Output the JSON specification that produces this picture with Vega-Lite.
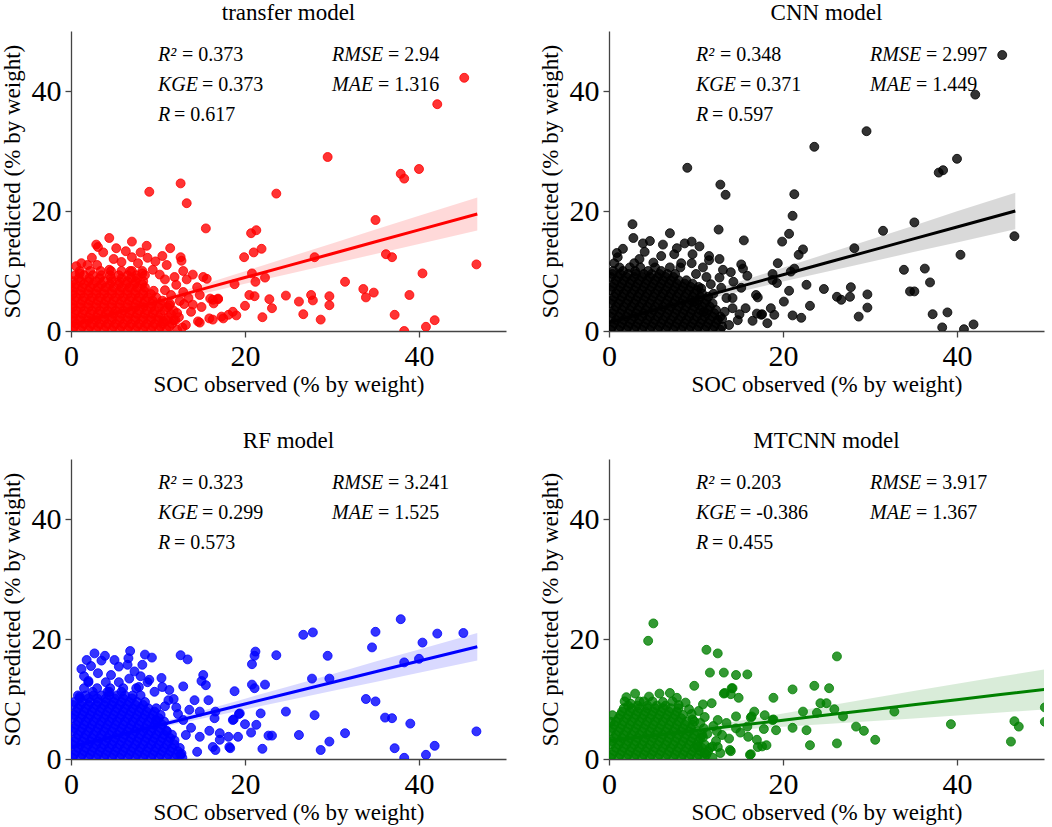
{
"$schema":"https://vega.github.io/schema/vega-lite/v6.json",
"padding":{"left":0,"top":2,"right":4,"bottom":2},
"data":{"values":[
{"m":"a","x":0.2,"y":0.2},{"m":"a","x":1.1,"y":0.2},{"m":"a","x":2.0,"y":0.2},{"m":"a","x":2.9,"y":0.2},{"m":"a","x":3.8,"y":0.2},{"m":"a","x":4.7,"y":0.2},{"m":"a","x":5.6,"y":0.2},{"m":"a","x":6.5,"y":0.2},{"m":"a","x":7.4,"y":0.2},{"m":"a","x":8.3,"y":0.2},{"m":"a","x":9.2,"y":0.2},{"m":"a","x":10.1,"y":0.2},{"m":"a","x":11.0,"y":0.2},{"m":"a","x":12.2,"y":0.2},
{"m":"a","x":0.4,"y":0.75},{"m":"a","x":1.3,"y":0.75},{"m":"a","x":2.2,"y":0.75},{"m":"a","x":3.1,"y":0.75},{"m":"a","x":4.0,"y":0.75},{"m":"a","x":4.9,"y":0.75},{"m":"a","x":5.8,"y":0.75},{"m":"a","x":6.7,"y":0.75},{"m":"a","x":7.6,"y":0.75},{"m":"a","x":8.5,"y":0.75},{"m":"a","x":9.4,"y":0.75},{"m":"a","x":10.3,"y":0.75},{"m":"a","x":11.3,"y":0.75},
{"m":"a","x":0.6,"y":1.2},{"m":"a","x":1.5,"y":1.2},{"m":"a","x":2.4,"y":1.2},{"m":"a","x":3.3,"y":1.2},{"m":"a","x":4.2,"y":1.2},{"m":"a","x":5.1,"y":1.2},{"m":"a","x":6.0,"y":1.2},{"m":"a","x":6.9,"y":1.2},{"m":"a","x":7.8,"y":1.2},{"m":"a","x":8.7,"y":1.2},{"m":"a","x":9.6,"y":1.2},{"m":"a","x":10.5,"y":1.2},{"m":"a","x":11.6,"y":1.2},
{"m":"a","x":0.2,"y":1.8},{"m":"a","x":1.1,"y":1.8},{"m":"a","x":2.0,"y":1.8},{"m":"a","x":2.9,"y":1.8},{"m":"a","x":3.8,"y":1.8},{"m":"a","x":4.7,"y":1.8},{"m":"a","x":5.6,"y":1.8},{"m":"a","x":6.5,"y":1.8},{"m":"a","x":7.4,"y":1.8},{"m":"a","x":8.3,"y":1.8},{"m":"a","x":9.2,"y":1.8},{"m":"a","x":10.1,"y":1.8},{"m":"a","x":11.0,"y":1.8},{"m":"a","x":12.0,"y":1.8},
{"m":"a","x":0.2,"y":2.3},{"m":"a","x":1.1,"y":2.3},{"m":"a","x":2.0,"y":2.3},{"m":"a","x":2.9,"y":2.3},{"m":"a","x":3.8,"y":2.3},{"m":"a","x":4.7,"y":2.3},{"m":"a","x":5.6,"y":2.3},{"m":"a","x":6.5,"y":2.3},{"m":"a","x":7.4,"y":2.3},{"m":"a","x":8.3,"y":2.3},{"m":"a","x":9.2,"y":2.3},{"m":"a","x":10.1,"y":2.3},{"m":"a","x":11.2,"y":2.3},{"m":"a","x":12.4,"y":2.3},
{"m":"a","x":0.4,"y":2.85},{"m":"a","x":1.3,"y":2.85},{"m":"a","x":2.2,"y":2.85},{"m":"a","x":3.1,"y":2.85},{"m":"a","x":4.0,"y":2.85},{"m":"a","x":4.9,"y":2.85},{"m":"a","x":5.8,"y":2.85},{"m":"a","x":6.7,"y":2.85},{"m":"a","x":7.6,"y":2.85},{"m":"a","x":8.5,"y":2.85},{"m":"a","x":9.4,"y":2.85},{"m":"a","x":10.3,"y":2.85},{"m":"a","x":11.5,"y":2.85},
{"m":"a","x":0.6,"y":3.4},{"m":"a","x":1.5,"y":3.4},{"m":"a","x":2.4,"y":3.4},{"m":"a","x":3.3,"y":3.4},{"m":"a","x":4.2,"y":3.4},{"m":"a","x":5.1,"y":3.4},{"m":"a","x":6.0,"y":3.4},{"m":"a","x":6.9,"y":3.4},{"m":"a","x":7.8,"y":3.4},{"m":"a","x":8.7,"y":3.4},{"m":"a","x":9.6,"y":3.4},{"m":"a","x":10.7,"y":3.4},{"m":"a","x":11.8,"y":3.4},
{"m":"a","x":0.2,"y":3.95},{"m":"a","x":1.1,"y":3.95},{"m":"a","x":2.0,"y":3.95},{"m":"a","x":2.9,"y":3.95},{"m":"a","x":3.8,"y":3.95},{"m":"a","x":4.7,"y":3.95},{"m":"a","x":5.6,"y":3.95},{"m":"a","x":6.5,"y":3.95},{"m":"a","x":7.4,"y":3.95},{"m":"a","x":8.3,"y":3.95},{"m":"a","x":9.2,"y":3.95},{"m":"a","x":10.1,"y":3.95},{"m":"a","x":11.1,"y":3.95},
{"m":"a","x":0.2,"y":4.5},{"m":"a","x":1.1,"y":4.5},{"m":"a","x":2.0,"y":4.5},{"m":"a","x":2.9,"y":4.5},{"m":"a","x":3.8,"y":4.5},{"m":"a","x":4.7,"y":4.5},{"m":"a","x":5.6,"y":4.5},{"m":"a","x":6.5,"y":4.5},{"m":"a","x":7.4,"y":4.5},{"m":"a","x":8.3,"y":4.5},{"m":"a","x":9.3,"y":4.5},{"m":"a","x":10.3,"y":4.5},{"m":"a","x":11.4,"y":4.5},
{"m":"a","x":0.4,"y":5.05},{"m":"a","x":1.3,"y":5.05},{"m":"a","x":2.2,"y":5.05},{"m":"a","x":3.1,"y":5.05},{"m":"a","x":4.0,"y":5.05},{"m":"a","x":4.9,"y":5.05},{"m":"a","x":5.8,"y":5.05},{"m":"a","x":6.7,"y":5.05},{"m":"a","x":7.6,"y":5.05},{"m":"a","x":8.5,"y":5.05},{"m":"a","x":9.4,"y":5.05},{"m":"a","x":10.5,"y":5.05},
{"m":"a","x":0.6,"y":5.6},{"m":"a","x":1.5,"y":5.6},{"m":"a","x":2.4,"y":5.6},{"m":"a","x":3.3,"y":5.6},{"m":"a","x":4.2,"y":5.6},{"m":"a","x":5.1,"y":5.6},{"m":"a","x":6.0,"y":5.6},{"m":"a","x":6.9,"y":5.6},{"m":"a","x":7.8,"y":5.6},{"m":"a","x":8.8,"y":5.6},{"m":"a","x":9.8,"y":5.6},
{"m":"a","x":0.2,"y":6.15},{"m":"a","x":1.1,"y":6.15},{"m":"a","x":2.0,"y":6.15},{"m":"a","x":2.9,"y":6.15},{"m":"a","x":3.8,"y":6.15},{"m":"a","x":4.7,"y":6.15},{"m":"a","x":5.6,"y":6.15},{"m":"a","x":6.5,"y":6.15},{"m":"a","x":7.4,"y":6.15},{"m":"a","x":8.3,"y":6.15},{"m":"a","x":9.2,"y":6.15},
{"m":"a","x":0.2,"y":6.7},{"m":"a","x":1.1,"y":6.7},{"m":"a","x":2.0,"y":6.7},{"m":"a","x":2.9,"y":6.7},{"m":"a","x":3.8,"y":6.7},{"m":"a","x":4.7,"y":6.7},{"m":"a","x":5.6,"y":6.7},{"m":"a","x":6.5,"y":6.7},{"m":"a","x":7.4,"y":6.7},{"m":"a","x":8.4,"y":6.7},{"m":"a","x":9.5,"y":6.7},
{"m":"a","x":0.4,"y":7.25},{"m":"a","x":1.3,"y":7.25},{"m":"a","x":2.2,"y":7.25},{"m":"a","x":3.1,"y":7.25},{"m":"a","x":4.0,"y":7.25},{"m":"a","x":4.9,"y":7.25},{"m":"a","x":5.8,"y":7.25},{"m":"a","x":6.7,"y":7.25},{"m":"a","x":7.6,"y":7.25},{"m":"a","x":8.5,"y":7.25},
{"m":"a","x":0.5,"y":7.8},{"m":"a","x":1.5,"y":7.8},{"m":"a","x":2.5,"y":7.8},{"m":"a","x":3.5,"y":7.8},{"m":"a","x":4.5,"y":7.8},{"m":"a","x":5.5,"y":7.8},{"m":"a","x":6.4,"y":7.8},{"m":"a","x":7.3,"y":7.8},{"m":"a","x":8.2,"y":7.8},
{"m":"a","x":0.2,"y":8.3},{"m":"a","x":1.1,"y":8.3},{"m":"a","x":2.0,"y":8.3},{"m":"a","x":2.9,"y":8.3},{"m":"a","x":3.8,"y":8.3},{"m":"a","x":4.7,"y":8.3},{"m":"a","x":5.6,"y":8.3},{"m":"a","x":6.5,"y":8.3},{"m":"a","x":7.4,"y":8.3},{"m":"a","x":8.3,"y":8.3},
{"m":"a","x":0.9,"y":8.8},{"m":"a","x":2.1,"y":8.8},{"m":"a","x":3.3,"y":8.8},{"m":"a","x":4.6,"y":8.8},{"m":"a","x":5.8,"y":8.8},{"m":"a","x":6.9,"y":8.8},{"m":"a","x":7.6,"y":8.8},
{"m":"a","x":0.5,"y":9.3},{"m":"a","x":1.5,"y":9.3},{"m":"a","x":2.5,"y":9.3},{"m":"a","x":3.5,"y":9.3},{"m":"a","x":4.5,"y":9.3},{"m":"a","x":5.5,"y":9.3},{"m":"a","x":6.5,"y":9.3},{"m":"a","x":7.5,"y":9.3},{"m":"a","x":8.5,"y":9.3},
{"m":"a","x":1.0,"y":10.0},{"m":"a","x":2.2,"y":10.0},{"m":"a","x":3.4,"y":10.0},{"m":"a","x":4.6,"y":10.0},{"m":"a","x":5.8,"y":10.0},{"m":"a","x":7.0,"y":10.0},{"m":"a","x":8.2,"y":10.0},
{"m":"a","x":0.6,"y":10.8},{"m":"a","x":3.0,"y":11.0},{"m":"a","x":4.9,"y":12.0},{"m":"a","x":7.0,"y":12.3},{"m":"a","x":5.2,"y":13.8},{"m":"a","x":8.0,"y":13.1},{"m":"a","x":9.7,"y":11.6},{"m":"a","x":11.0,"y":11.0},{"m":"a","x":10.8,"y":8.6},{"m":"a","x":11.5,"y":6.0},{"m":"a","x":12.5,"y":5.0},{"m":"a","x":10.8,"y":6.8},{"m":"a","x":13.0,"y":4.5},{"m":"a","x":11.8,"y":1.8},{"m":"a","x":12.8,"y":0.6},
{"m":"a","x":15.5,"y":17.1},{"m":"a","x":4.4,"y":15.5},{"m":"a","x":7.0,"y":14.9},{"m":"a","x":2.9,"y":14.4},{"m":"a","x":3.1,"y":14.0},{"m":"a","x":8.7,"y":14.2},{"m":"a","x":11.4,"y":13.8},{"m":"a","x":3.7,"y":13.1},{"m":"a","x":6.3,"y":13.3},{"m":"a","x":10.5,"y":12.5},{"m":"a","x":12.6,"y":12.3},{"m":"a","x":12.7,"y":11.7},{"m":"a","x":8.8,"y":12.2},{"m":"a","x":2.4,"y":12.2},{"m":"a","x":1.2,"y":11.3},{"m":"a","x":1.9,"y":11.0},{"m":"a","x":5.8,"y":11.5},{"m":"a","x":7.7,"y":11.3},{"m":"a","x":9.4,"y":10.2},{"m":"a","x":12.9,"y":10.0},{"m":"a","x":14.0,"y":9.4},{"m":"a","x":15.2,"y":9.0},{"m":"a","x":15.6,"y":8.7},{"m":"a","x":1.0,"y":9.6},{"m":"a","x":4.4,"y":10.2},{"m":"a","x":6.8,"y":10.0},{"m":"a","x":8.2,"y":9.6},{"m":"a","x":10.2,"y":9.4},{"m":"a","x":12.1,"y":7.7},{"m":"a","x":12.9,"y":6.5},{"m":"a","x":11.3,"y":4.3},{"m":"a","x":10.6,"y":1.6},{"m":"a","x":14.6,"y":1.6},{"m":"a","x":14.0,"y":4.4},{"m":"a","x":16.3,"y":5.2},{"m":"a","x":16.9,"y":5.4},{"m":"a","x":15.9,"y":2.1},{"m":"a","x":17.5,"y":2.1},{"m":"a","x":18.6,"y":3.2},{"m":"a","x":13.3,"y":8.6},{"m":"a","x":14.5,"y":7.3},{"m":"a","x":13.5,"y":5.5},{"m":"a","x":14.8,"y":6.0},{"m":"a","x":12.2,"y":3.0},{"m":"a","x":13.2,"y":1.0},{"m":"a","x":11.9,"y":9.0},{"m":"a","x":13.8,"y":3.2},{"m":"a","x":15.0,"y":4.0},
{"m":"a","x":45.2,"y":42.2},{"m":"a","x":42.1,"y":37.8},{"m":"a","x":29.5,"y":29.0},{"m":"a","x":40.0,"y":27.0},{"m":"a","x":37.9,"y":26.2},{"m":"a","x":38.3,"y":25.4},{"m":"a","x":9.0,"y":23.2},{"m":"a","x":12.6,"y":24.6},{"m":"a","x":13.3,"y":21.3},{"m":"a","x":23.6,"y":22.9},{"m":"a","x":35.0,"y":18.5},{"m":"a","x":20.7,"y":16.3},{"m":"a","x":21.3,"y":16.8},{"m":"a","x":19.9,"y":12.3},{"m":"a","x":21.0,"y":13.1},{"m":"a","x":21.9,"y":13.7},{"m":"a","x":28.0,"y":12.3},{"m":"a","x":36.2,"y":12.8},{"m":"a","x":36.9,"y":12.3},{"m":"a","x":46.6,"y":11.1},{"m":"a","x":40.4,"y":9.6},{"m":"a","x":20.8,"y":9.6},{"m":"a","x":21.2,"y":8.2},{"m":"a","x":22.3,"y":8.9},{"m":"a","x":31.5,"y":8.2},{"m":"a","x":18.8,"y":7.8},{"m":"a","x":33.6,"y":7.0},{"m":"a","x":34.8,"y":6.4},{"m":"a","x":33.9,"y":5.6},{"m":"a","x":20.5,"y":6.0},{"m":"a","x":21.1,"y":5.8},{"m":"a","x":24.7,"y":5.9},{"m":"a","x":22.8,"y":5.3},{"m":"a","x":26.2,"y":4.9},{"m":"a","x":27.6,"y":6.0},{"m":"a","x":27.8,"y":5.1},{"m":"a","x":29.7,"y":5.8},{"m":"a","x":29.7,"y":4.3},{"m":"a","x":38.9,"y":6.0},{"m":"a","x":20.0,"y":4.2},{"m":"a","x":23.1,"y":3.8},{"m":"a","x":26.7,"y":2.8},{"m":"a","x":28.7,"y":1.9},{"m":"a","x":22.0,"y":2.3},{"m":"a","x":37.2,"y":2.7},{"m":"a","x":38.3,"y":0.0},{"m":"a","x":40.8,"y":0.7},{"m":"a","x":41.8,"y":1.8},{"m":"a","x":17.3,"y":2.4},{"m":"a","x":18.1,"y":2.7},{"m":"a","x":19.0,"y":2.6},{"m":"a","x":16.3,"y":1.9},{"m":"a","x":14.8,"y":1.4},{"m":"a","x":16.0,"y":5.4},{"m":"a","x":16.9,"y":5.3},{"m":"a","x":16.4,"y":4.6},

{"m":"b","x":0.2,"y":0.2},{"m":"b","x":1.1,"y":0.2},{"m":"b","x":2.0,"y":0.2},{"m":"b","x":2.9,"y":0.2},{"m":"b","x":3.8,"y":0.2},{"m":"b","x":4.7,"y":0.2},{"m":"b","x":5.6,"y":0.2},{"m":"b","x":6.5,"y":0.2},{"m":"b","x":7.4,"y":0.2},{"m":"b","x":8.3,"y":0.2},{"m":"b","x":9.2,"y":0.2},{"m":"b","x":10.1,"y":0.2},{"m":"b","x":11.0,"y":0.2},{"m":"b","x":11.9,"y":0.2},{"m":"b","x":12.8,"y":0.2},
{"m":"b","x":0.4,"y":0.75},{"m":"b","x":1.3,"y":0.75},{"m":"b","x":2.2,"y":0.75},{"m":"b","x":3.1,"y":0.75},{"m":"b","x":4.0,"y":0.75},{"m":"b","x":4.9,"y":0.75},{"m":"b","x":5.8,"y":0.75},{"m":"b","x":6.7,"y":0.75},{"m":"b","x":7.6,"y":0.75},{"m":"b","x":8.5,"y":0.75},{"m":"b","x":9.4,"y":0.75},{"m":"b","x":10.3,"y":0.75},{"m":"b","x":11.2,"y":0.75},{"m":"b","x":12.1,"y":0.75},{"m":"b","x":13.0,"y":0.75},
{"m":"b","x":0.6,"y":1.3},{"m":"b","x":1.5,"y":1.3},{"m":"b","x":2.4,"y":1.3},{"m":"b","x":3.3,"y":1.3},{"m":"b","x":4.2,"y":1.3},{"m":"b","x":5.1,"y":1.3},{"m":"b","x":6.0,"y":1.3},{"m":"b","x":6.9,"y":1.3},{"m":"b","x":7.8,"y":1.3},{"m":"b","x":8.7,"y":1.3},{"m":"b","x":9.6,"y":1.3},{"m":"b","x":10.5,"y":1.3},{"m":"b","x":11.4,"y":1.3},{"m":"b","x":12.3,"y":1.3},
{"m":"b","x":0.8,"y":1.85},{"m":"b","x":1.7,"y":1.85},{"m":"b","x":2.6,"y":1.85},{"m":"b","x":3.5,"y":1.85},{"m":"b","x":4.4,"y":1.85},{"m":"b","x":5.3,"y":1.85},{"m":"b","x":6.2,"y":1.85},{"m":"b","x":7.1,"y":1.85},{"m":"b","x":8.0,"y":1.85},{"m":"b","x":8.9,"y":1.85},{"m":"b","x":9.8,"y":1.85},{"m":"b","x":10.7,"y":1.85},{"m":"b","x":11.6,"y":1.85},{"m":"b","x":12.5,"y":1.85},
{"m":"b","x":0.2,"y":2.4},{"m":"b","x":1.1,"y":2.4},{"m":"b","x":2.0,"y":2.4},{"m":"b","x":2.9,"y":2.4},{"m":"b","x":3.8,"y":2.4},{"m":"b","x":4.7,"y":2.4},{"m":"b","x":5.6,"y":2.4},{"m":"b","x":6.5,"y":2.4},{"m":"b","x":7.4,"y":2.4},{"m":"b","x":8.3,"y":2.4},{"m":"b","x":9.2,"y":2.4},{"m":"b","x":10.1,"y":2.4},{"m":"b","x":11.0,"y":2.4},{"m":"b","x":11.9,"y":2.4},{"m":"b","x":12.8,"y":2.4},
{"m":"b","x":0.4,"y":2.95},{"m":"b","x":1.3,"y":2.95},{"m":"b","x":2.2,"y":2.95},{"m":"b","x":3.1,"y":2.95},{"m":"b","x":4.0,"y":2.95},{"m":"b","x":4.9,"y":2.95},{"m":"b","x":5.8,"y":2.95},{"m":"b","x":6.7,"y":2.95},{"m":"b","x":7.6,"y":2.95},{"m":"b","x":8.5,"y":2.95},{"m":"b","x":9.4,"y":2.95},{"m":"b","x":10.3,"y":2.95},{"m":"b","x":11.2,"y":2.95},{"m":"b","x":12.1,"y":2.95},
{"m":"b","x":0.6,"y":3.5},{"m":"b","x":1.5,"y":3.5},{"m":"b","x":2.4,"y":3.5},{"m":"b","x":3.3,"y":3.5},{"m":"b","x":4.2,"y":3.5},{"m":"b","x":5.1,"y":3.5},{"m":"b","x":6.0,"y":3.5},{"m":"b","x":6.9,"y":3.5},{"m":"b","x":7.8,"y":3.5},{"m":"b","x":8.7,"y":3.5},{"m":"b","x":9.6,"y":3.5},{"m":"b","x":10.5,"y":3.5},{"m":"b","x":11.4,"y":3.5},{"m":"b","x":12.3,"y":3.5},
{"m":"b","x":0.8,"y":4.05},{"m":"b","x":1.7,"y":4.05},{"m":"b","x":2.6,"y":4.05},{"m":"b","x":3.5,"y":4.05},{"m":"b","x":4.4,"y":4.05},{"m":"b","x":5.3,"y":4.05},{"m":"b","x":6.2,"y":4.05},{"m":"b","x":7.1,"y":4.05},{"m":"b","x":8.0,"y":4.05},{"m":"b","x":8.9,"y":4.05},{"m":"b","x":9.8,"y":4.05},{"m":"b","x":10.7,"y":4.05},{"m":"b","x":11.6,"y":4.05},
{"m":"b","x":0.2,"y":4.6},{"m":"b","x":1.1,"y":4.6},{"m":"b","x":2.0,"y":4.6},{"m":"b","x":2.9,"y":4.6},{"m":"b","x":3.8,"y":4.6},{"m":"b","x":4.7,"y":4.6},{"m":"b","x":5.6,"y":4.6},{"m":"b","x":6.5,"y":4.6},{"m":"b","x":7.4,"y":4.6},{"m":"b","x":8.3,"y":4.6},{"m":"b","x":9.2,"y":4.6},{"m":"b","x":10.1,"y":4.6},{"m":"b","x":11.0,"y":4.6},{"m":"b","x":11.9,"y":4.6},
{"m":"b","x":0.4,"y":5.15},{"m":"b","x":1.3,"y":5.15},{"m":"b","x":2.2,"y":5.15},{"m":"b","x":3.1,"y":5.15},{"m":"b","x":4.0,"y":5.15},{"m":"b","x":4.9,"y":5.15},{"m":"b","x":5.8,"y":5.15},{"m":"b","x":6.7,"y":5.15},{"m":"b","x":7.6,"y":5.15},{"m":"b","x":8.5,"y":5.15},{"m":"b","x":9.4,"y":5.15},{"m":"b","x":10.3,"y":5.15},{"m":"b","x":11.2,"y":5.15},
{"m":"b","x":0.6,"y":5.7},{"m":"b","x":1.5,"y":5.7},{"m":"b","x":2.4,"y":5.7},{"m":"b","x":3.3,"y":5.7},{"m":"b","x":4.2,"y":5.7},{"m":"b","x":5.1,"y":5.7},{"m":"b","x":6.0,"y":5.7},{"m":"b","x":6.9,"y":5.7},{"m":"b","x":7.8,"y":5.7},{"m":"b","x":8.7,"y":5.7},{"m":"b","x":9.6,"y":5.7},{"m":"b","x":10.5,"y":5.7},{"m":"b","x":11.4,"y":5.7},
{"m":"b","x":0.8,"y":6.25},{"m":"b","x":1.7,"y":6.25},{"m":"b","x":2.6,"y":6.25},{"m":"b","x":3.5,"y":6.25},{"m":"b","x":4.4,"y":6.25},{"m":"b","x":5.3,"y":6.25},{"m":"b","x":6.2,"y":6.25},{"m":"b","x":7.1,"y":6.25},{"m":"b","x":8.0,"y":6.25},{"m":"b","x":8.9,"y":6.25},{"m":"b","x":9.8,"y":6.25},{"m":"b","x":10.7,"y":6.25},
{"m":"b","x":0.2,"y":6.8},{"m":"b","x":1.1,"y":6.8},{"m":"b","x":2.0,"y":6.8},{"m":"b","x":2.9,"y":6.8},{"m":"b","x":3.8,"y":6.8},{"m":"b","x":4.7,"y":6.8},{"m":"b","x":5.6,"y":6.8},{"m":"b","x":6.5,"y":6.8},{"m":"b","x":7.4,"y":6.8},{"m":"b","x":8.3,"y":6.8},{"m":"b","x":9.2,"y":6.8},{"m":"b","x":10.1,"y":6.8},
{"m":"b","x":0.4,"y":7.35},{"m":"b","x":1.3,"y":7.35},{"m":"b","x":2.2,"y":7.35},{"m":"b","x":3.1,"y":7.35},{"m":"b","x":4.0,"y":7.35},{"m":"b","x":4.9,"y":7.35},{"m":"b","x":5.8,"y":7.35},{"m":"b","x":6.7,"y":7.35},{"m":"b","x":7.6,"y":7.35},{"m":"b","x":8.5,"y":7.35},{"m":"b","x":9.4,"y":7.35},{"m":"b","x":10.3,"y":7.35},
{"m":"b","x":0.6,"y":7.9},{"m":"b","x":1.5,"y":7.9},{"m":"b","x":2.4,"y":7.9},{"m":"b","x":3.3,"y":7.9},{"m":"b","x":4.2,"y":7.9},{"m":"b","x":5.1,"y":7.9},{"m":"b","x":6.0,"y":7.9},{"m":"b","x":6.9,"y":7.9},{"m":"b","x":7.8,"y":7.9},{"m":"b","x":8.7,"y":7.9},{"m":"b","x":9.6,"y":7.9},
{"m":"b","x":0.8,"y":8.45},{"m":"b","x":1.7,"y":8.45},{"m":"b","x":2.6,"y":8.45},{"m":"b","x":3.5,"y":8.45},{"m":"b","x":4.4,"y":8.45},{"m":"b","x":5.3,"y":8.45},{"m":"b","x":6.2,"y":8.45},{"m":"b","x":7.1,"y":8.45},{"m":"b","x":8.0,"y":8.45},{"m":"b","x":8.9,"y":8.45},
{"m":"b","x":0.2,"y":9.0},{"m":"b","x":1.1,"y":9.0},{"m":"b","x":2.0,"y":9.0},{"m":"b","x":2.9,"y":9.0},{"m":"b","x":3.8,"y":9.0},{"m":"b","x":4.7,"y":9.0},{"m":"b","x":5.6,"y":9.0},{"m":"b","x":6.5,"y":9.0},{"m":"b","x":7.4,"y":9.0},
{"m":"b","x":0.4,"y":9.5},{"m":"b","x":1.3,"y":9.5},{"m":"b","x":2.2,"y":9.5},{"m":"b","x":3.1,"y":9.5},{"m":"b","x":4.0,"y":9.5},{"m":"b","x":4.9,"y":9.5},{"m":"b","x":5.8,"y":9.5},{"m":"b","x":6.7,"y":9.5},{"m":"b","x":7.6,"y":9.5},
{"m":"b","x":0.5,"y":10.0},{"m":"b","x":1.6,"y":10.0},{"m":"b","x":3.0,"y":10.0},{"m":"b","x":4.5,"y":10.0},{"m":"b","x":6.0,"y":10.0},
{"m":"b","x":1.2,"y":10.6},{"m":"b","x":2.4,"y":10.6},{"m":"b","x":3.6,"y":10.6},{"m":"b","x":5.3,"y":10.6},{"m":"b","x":7.0,"y":10.6},{"m":"b","x":8.2,"y":10.6},
{"m":"b","x":1.0,"y":12.3},{"m":"b","x":3.5,"y":12.0},{"m":"b","x":6.0,"y":12.5},{"m":"b","x":7.8,"y":13.8},{"m":"b","x":8.3,"y":11.3},{"m":"b","x":10.8,"y":10.6},{"m":"b","x":11.2,"y":9.0},{"m":"b","x":12.0,"y":6.2},{"m":"b","x":13.5,"y":5.5},{"m":"b","x":13.0,"y":2.0},{"m":"b","x":14.2,"y":3.8},{"m":"b","x":11.5,"y":11.8},{"m":"b","x":4.7,"y":15.0},{"m":"b","x":0.9,"y":13.0},
{"m":"b","x":2.7,"y":17.8},{"m":"b","x":2.8,"y":15.5},{"m":"b","x":7.0,"y":16.3},{"m":"b","x":1.6,"y":13.7},{"m":"b","x":3.9,"y":14.6},{"m":"b","x":4.1,"y":13.2},{"m":"b","x":6.2,"y":14.4},{"m":"b","x":8.7,"y":14.6},{"m":"b","x":9.5,"y":14.9},{"m":"b","x":10.4,"y":14.1},{"m":"b","x":7.5,"y":12.8},{"m":"b","x":9.6,"y":12.8},{"m":"b","x":11.5,"y":12.5},{"m":"b","x":12.7,"y":12.0},{"m":"b","x":0.6,"y":11.3},{"m":"b","x":2.9,"y":11.3},{"m":"b","x":5.1,"y":11.4},{"m":"b","x":9.5,"y":11.3},{"m":"b","x":13.1,"y":10.2},{"m":"b","x":15.2,"y":11.1},{"m":"b","x":15.4,"y":10.4},{"m":"b","x":15.9,"y":9.2},{"m":"b","x":14.0,"y":9.8},{"m":"b","x":10.0,"y":9.5},{"m":"b","x":11.7,"y":7.8},{"m":"b","x":12.7,"y":8.9},{"m":"b","x":12.9,"y":7.2},{"m":"b","x":14.3,"y":8.2},{"m":"b","x":15.2,"y":7.2},{"m":"b","x":16.9,"y":6.0},{"m":"b","x":17.1,"y":5.6},{"m":"b","x":18.8,"y":9.5},{"m":"b","x":19.3,"y":8.0},{"m":"b","x":18.6,"y":3.8},{"m":"b","x":17.5,"y":2.7},{"m":"b","x":13.3,"y":3.2},{"m":"b","x":10.6,"y":7.1},{"m":"b","x":9.8,"y":4.9},{"m":"b","x":10.9,"y":3.2},{"m":"b","x":15.7,"y":3.8},{"m":"b","x":14.2,"y":5.5},{"m":"b","x":13.8,"y":1.0},{"m":"b","x":15.0,"y":2.8},
{"m":"b","x":45.2,"y":46.0},{"m":"b","x":42.1,"y":39.4},{"m":"b","x":29.6,"y":33.3},{"m":"b","x":23.6,"y":30.7},{"m":"b","x":40.0,"y":28.7},{"m":"b","x":37.9,"y":26.4},{"m":"b","x":38.4,"y":26.8},{"m":"b","x":9.0,"y":27.2},{"m":"b","x":12.8,"y":24.4},{"m":"b","x":13.4,"y":22.7},{"m":"b","x":21.3,"y":22.8},{"m":"b","x":21.1,"y":19.2},{"m":"b","x":35.1,"y":18.1},{"m":"b","x":12.6,"y":16.9},{"m":"b","x":20.7,"y":16.2},{"m":"b","x":15.5,"y":15.1},{"m":"b","x":19.9,"y":14.9},{"m":"b","x":31.5,"y":16.7},{"m":"b","x":28.2,"y":13.8},{"m":"b","x":22.3,"y":13.6},{"m":"b","x":21.8,"y":12.7},{"m":"b","x":19.4,"y":11.3},{"m":"b","x":40.4,"y":12.7},{"m":"b","x":46.6,"y":15.8},{"m":"b","x":21.3,"y":10.4},{"m":"b","x":20.9,"y":9.9},{"m":"b","x":33.9,"y":10.2},{"m":"b","x":36.3,"y":10.4},{"m":"b","x":36.9,"y":8.1},{"m":"b","x":34.6,"y":6.6},{"m":"b","x":35.1,"y":6.6},{"m":"b","x":22.7,"y":7.7},{"m":"b","x":24.7,"y":7.0},{"m":"b","x":27.8,"y":7.3},{"m":"b","x":26.2,"y":5.7},{"m":"b","x":26.7,"y":5.2},{"m":"b","x":27.7,"y":5.7},{"m":"b","x":29.7,"y":6.1},{"m":"b","x":29.7,"y":3.9},{"m":"b","x":23.1,"y":4.2},{"m":"b","x":20.7,"y":6.7},{"m":"b","x":20.1,"y":4.9},{"m":"b","x":28.7,"y":2.4},{"m":"b","x":21.1,"y":2.6},{"m":"b","x":22.1,"y":2.2},{"m":"b","x":37.2,"y":2.8},{"m":"b","x":38.9,"y":3.1},{"m":"b","x":38.3,"y":0.6},{"m":"b","x":40.8,"y":0.3},{"m":"b","x":41.9,"y":1.1},{"m":"b","x":19.0,"y":2.7},{"m":"b","x":18.2,"y":1.3},{"m":"b","x":17.6,"y":2.8},{"m":"b","x":17.0,"y":2.9},{"m":"b","x":16.5,"y":1.7},{"m":"b","x":14.8,"y":1.8},{"m":"b","x":18.8,"y":8.5},

{"m":"c","x":0.2,"y":0.2},{"m":"c","x":1.1,"y":0.2},{"m":"c","x":2.0,"y":0.2},{"m":"c","x":2.9,"y":0.2},{"m":"c","x":3.8,"y":0.2},{"m":"c","x":4.7,"y":0.2},{"m":"c","x":5.6,"y":0.2},{"m":"c","x":6.5,"y":0.2},{"m":"c","x":7.4,"y":0.2},{"m":"c","x":8.3,"y":0.2},{"m":"c","x":9.2,"y":0.2},{"m":"c","x":10.1,"y":0.2},{"m":"c","x":11.0,"y":0.2},{"m":"c","x":11.9,"y":0.2},{"m":"c","x":12.8,"y":0.2},
{"m":"c","x":0.4,"y":0.75},{"m":"c","x":1.3,"y":0.75},{"m":"c","x":2.2,"y":0.75},{"m":"c","x":3.1,"y":0.75},{"m":"c","x":4.0,"y":0.75},{"m":"c","x":4.9,"y":0.75},{"m":"c","x":5.8,"y":0.75},{"m":"c","x":6.7,"y":0.75},{"m":"c","x":7.6,"y":0.75},{"m":"c","x":8.5,"y":0.75},{"m":"c","x":9.4,"y":0.75},{"m":"c","x":10.3,"y":0.75},{"m":"c","x":11.2,"y":0.75},{"m":"c","x":12.1,"y":0.75},
{"m":"c","x":0.6,"y":1.3},{"m":"c","x":1.5,"y":1.3},{"m":"c","x":2.4,"y":1.3},{"m":"c","x":3.3,"y":1.3},{"m":"c","x":4.2,"y":1.3},{"m":"c","x":5.1,"y":1.3},{"m":"c","x":6.0,"y":1.3},{"m":"c","x":6.9,"y":1.3},{"m":"c","x":7.8,"y":1.3},{"m":"c","x":8.7,"y":1.3},{"m":"c","x":9.6,"y":1.3},{"m":"c","x":10.5,"y":1.3},{"m":"c","x":11.4,"y":1.3},{"m":"c","x":12.3,"y":1.3},
{"m":"c","x":0.8,"y":1.85},{"m":"c","x":1.7,"y":1.85},{"m":"c","x":2.6,"y":1.85},{"m":"c","x":3.5,"y":1.85},{"m":"c","x":4.4,"y":1.85},{"m":"c","x":5.3,"y":1.85},{"m":"c","x":6.2,"y":1.85},{"m":"c","x":7.1,"y":1.85},{"m":"c","x":8.0,"y":1.85},{"m":"c","x":8.9,"y":1.85},{"m":"c","x":9.8,"y":1.85},{"m":"c","x":10.7,"y":1.85},{"m":"c","x":11.6,"y":1.85},{"m":"c","x":12.5,"y":1.85},
{"m":"c","x":0.2,"y":2.4},{"m":"c","x":1.1,"y":2.4},{"m":"c","x":2.0,"y":2.4},{"m":"c","x":2.9,"y":2.4},{"m":"c","x":3.8,"y":2.4},{"m":"c","x":4.7,"y":2.4},{"m":"c","x":5.6,"y":2.4},{"m":"c","x":6.5,"y":2.4},{"m":"c","x":7.4,"y":2.4},{"m":"c","x":8.3,"y":2.4},{"m":"c","x":9.2,"y":2.4},{"m":"c","x":10.1,"y":2.4},{"m":"c","x":11.0,"y":2.4},{"m":"c","x":11.9,"y":2.4},
{"m":"c","x":0.4,"y":2.95},{"m":"c","x":1.3,"y":2.95},{"m":"c","x":2.2,"y":2.95},{"m":"c","x":3.1,"y":2.95},{"m":"c","x":4.0,"y":2.95},{"m":"c","x":4.9,"y":2.95},{"m":"c","x":5.8,"y":2.95},{"m":"c","x":6.7,"y":2.95},{"m":"c","x":7.6,"y":2.95},{"m":"c","x":8.5,"y":2.95},{"m":"c","x":9.4,"y":2.95},{"m":"c","x":10.3,"y":2.95},{"m":"c","x":11.2,"y":2.95},
{"m":"c","x":0.6,"y":3.5},{"m":"c","x":1.5,"y":3.5},{"m":"c","x":2.4,"y":3.5},{"m":"c","x":3.3,"y":3.5},{"m":"c","x":4.2,"y":3.5},{"m":"c","x":5.1,"y":3.5},{"m":"c","x":6.0,"y":3.5},{"m":"c","x":6.9,"y":3.5},{"m":"c","x":7.8,"y":3.5},{"m":"c","x":8.7,"y":3.5},{"m":"c","x":9.6,"y":3.5},{"m":"c","x":10.5,"y":3.5},{"m":"c","x":11.4,"y":3.5},
{"m":"c","x":0.8,"y":4.05},{"m":"c","x":1.7,"y":4.05},{"m":"c","x":2.6,"y":4.05},{"m":"c","x":3.5,"y":4.05},{"m":"c","x":4.4,"y":4.05},{"m":"c","x":5.3,"y":4.05},{"m":"c","x":6.2,"y":4.05},{"m":"c","x":7.1,"y":4.05},{"m":"c","x":8.0,"y":4.05},{"m":"c","x":8.9,"y":4.05},{"m":"c","x":9.8,"y":4.05},{"m":"c","x":10.7,"y":4.05},{"m":"c","x":11.6,"y":4.05},
{"m":"c","x":0.2,"y":4.6},{"m":"c","x":1.1,"y":4.6},{"m":"c","x":2.0,"y":4.6},{"m":"c","x":2.9,"y":4.6},{"m":"c","x":3.8,"y":4.6},{"m":"c","x":4.7,"y":4.6},{"m":"c","x":5.6,"y":4.6},{"m":"c","x":6.5,"y":4.6},{"m":"c","x":7.4,"y":4.6},{"m":"c","x":8.3,"y":4.6},{"m":"c","x":9.2,"y":4.6},{"m":"c","x":10.1,"y":4.6},{"m":"c","x":11.0,"y":4.6},
{"m":"c","x":0.4,"y":5.15},{"m":"c","x":1.3,"y":5.15},{"m":"c","x":2.2,"y":5.15},{"m":"c","x":3.1,"y":5.15},{"m":"c","x":4.0,"y":5.15},{"m":"c","x":4.9,"y":5.15},{"m":"c","x":5.8,"y":5.15},{"m":"c","x":6.7,"y":5.15},{"m":"c","x":7.6,"y":5.15},{"m":"c","x":8.5,"y":5.15},{"m":"c","x":9.4,"y":5.15},{"m":"c","x":10.3,"y":5.15},
{"m":"c","x":0.6,"y":5.7},{"m":"c","x":1.5,"y":5.7},{"m":"c","x":2.4,"y":5.7},{"m":"c","x":3.3,"y":5.7},{"m":"c","x":4.2,"y":5.7},{"m":"c","x":5.1,"y":5.7},{"m":"c","x":6.0,"y":5.7},{"m":"c","x":6.9,"y":5.7},{"m":"c","x":7.8,"y":5.7},{"m":"c","x":8.7,"y":5.7},{"m":"c","x":9.6,"y":5.7},{"m":"c","x":10.5,"y":5.7},
{"m":"c","x":0.8,"y":6.25},{"m":"c","x":1.7,"y":6.25},{"m":"c","x":2.6,"y":6.25},{"m":"c","x":3.5,"y":6.25},{"m":"c","x":4.4,"y":6.25},{"m":"c","x":5.3,"y":6.25},{"m":"c","x":6.2,"y":6.25},{"m":"c","x":7.1,"y":6.25},{"m":"c","x":8.0,"y":6.25},{"m":"c","x":8.9,"y":6.25},{"m":"c","x":9.8,"y":6.25},{"m":"c","x":10.7,"y":6.25},
{"m":"c","x":0.2,"y":6.8},{"m":"c","x":1.1,"y":6.8},{"m":"c","x":2.0,"y":6.8},{"m":"c","x":2.9,"y":6.8},{"m":"c","x":3.8,"y":6.8},{"m":"c","x":4.7,"y":6.8},{"m":"c","x":5.6,"y":6.8},{"m":"c","x":6.5,"y":6.8},{"m":"c","x":7.4,"y":6.8},{"m":"c","x":8.3,"y":6.8},{"m":"c","x":9.2,"y":6.8},{"m":"c","x":10.1,"y":6.8},
{"m":"c","x":0.4,"y":7.35},{"m":"c","x":1.3,"y":7.35},{"m":"c","x":2.2,"y":7.35},{"m":"c","x":3.1,"y":7.35},{"m":"c","x":4.0,"y":7.35},{"m":"c","x":4.9,"y":7.35},{"m":"c","x":5.8,"y":7.35},{"m":"c","x":6.7,"y":7.35},{"m":"c","x":7.6,"y":7.35},{"m":"c","x":8.5,"y":7.35},{"m":"c","x":9.4,"y":7.35},{"m":"c","x":10.3,"y":7.35},
{"m":"c","x":0.6,"y":7.9},{"m":"c","x":1.5,"y":7.9},{"m":"c","x":2.4,"y":7.9},{"m":"c","x":3.3,"y":7.9},{"m":"c","x":4.2,"y":7.9},{"m":"c","x":5.1,"y":7.9},{"m":"c","x":6.0,"y":7.9},{"m":"c","x":6.9,"y":7.9},{"m":"c","x":7.8,"y":7.9},{"m":"c","x":8.7,"y":7.9},{"m":"c","x":9.6,"y":7.9},
{"m":"c","x":0.8,"y":8.45},{"m":"c","x":1.7,"y":8.45},{"m":"c","x":2.6,"y":8.45},{"m":"c","x":3.5,"y":8.45},{"m":"c","x":4.4,"y":8.45},{"m":"c","x":5.3,"y":8.45},{"m":"c","x":6.2,"y":8.45},{"m":"c","x":7.1,"y":8.45},{"m":"c","x":8.0,"y":8.45},{"m":"c","x":8.9,"y":8.45},{"m":"c","x":9.8,"y":8.45},
{"m":"c","x":0.2,"y":9.0},{"m":"c","x":1.1,"y":9.0},{"m":"c","x":2.0,"y":9.0},{"m":"c","x":2.9,"y":9.0},{"m":"c","x":3.8,"y":9.0},{"m":"c","x":4.7,"y":9.0},{"m":"c","x":5.6,"y":9.0},{"m":"c","x":6.5,"y":9.0},{"m":"c","x":7.4,"y":9.0},{"m":"c","x":8.3,"y":9.0},
{"m":"c","x":0.4,"y":9.5},{"m":"c","x":1.3,"y":9.5},{"m":"c","x":2.2,"y":9.5},{"m":"c","x":3.1,"y":9.5},{"m":"c","x":4.0,"y":9.5},{"m":"c","x":4.9,"y":9.5},{"m":"c","x":5.8,"y":9.5},{"m":"c","x":6.7,"y":9.5},{"m":"c","x":7.6,"y":9.5},{"m":"c","x":8.5,"y":9.5},
{"m":"c","x":1.0,"y":10.1},{"m":"c","x":2.0,"y":10.1},{"m":"c","x":3.0,"y":10.1},{"m":"c","x":4.0,"y":10.1},{"m":"c","x":5.0,"y":10.1},{"m":"c","x":6.0,"y":10.1},{"m":"c","x":7.0,"y":10.1},
{"m":"c","x":0.8,"y":10.6},{"m":"c","x":1.7,"y":10.6},{"m":"c","x":2.6,"y":10.6},{"m":"c","x":3.5,"y":10.6},{"m":"c","x":4.4,"y":10.6},{"m":"c","x":5.3,"y":10.6},{"m":"c","x":6.2,"y":10.6},{"m":"c","x":7.1,"y":10.6},{"m":"c","x":8.0,"y":10.6},
{"m":"c","x":2.5,"y":11.2},{"m":"c","x":4.2,"y":11.2},{"m":"c","x":5.8,"y":11.2},
{"m":"c","x":1.5,"y":11.8},{"m":"c","x":3.0,"y":11.8},{"m":"c","x":4.5,"y":11.8},{"m":"c","x":6.0,"y":11.8},{"m":"c","x":7.5,"y":11.8},
{"m":"c","x":2.0,"y":12.8},{"m":"c","x":4.0,"y":12.8},{"m":"c","x":5.5,"y":12.8},{"m":"c","x":8.8,"y":12.8},
{"m":"c","x":1.2,"y":15.0},{"m":"c","x":2.3,"y":15.5},{"m":"c","x":5.0,"y":16.5},{"m":"c","x":7.3,"y":14.6},{"m":"c","x":9.0,"y":13.2},{"m":"c","x":10.5,"y":12.0},{"m":"c","x":11.2,"y":9.8},{"m":"c","x":12.3,"y":7.5},{"m":"c","x":13.2,"y":4.0},{"m":"c","x":10.8,"y":8.8},{"m":"c","x":2.0,"y":13.0},{"m":"c","x":8.0,"y":13.8},
{"m":"c","x":6.8,"y":18.0},{"m":"c","x":2.7,"y":17.6},{"m":"c","x":3.9,"y":17.2},{"m":"c","x":1.8,"y":16.5},{"m":"c","x":3.5,"y":16.4},{"m":"c","x":6.6,"y":16.8},{"m":"c","x":8.5,"y":17.4},{"m":"c","x":9.3,"y":16.9},{"m":"c","x":8.2,"y":15.7},{"m":"c","x":5.5,"y":15.4},{"m":"c","x":6.5,"y":15.7},{"m":"c","x":1.5,"y":13.8},{"m":"c","x":3.1,"y":14.3},{"m":"c","x":4.6,"y":14.0},{"m":"c","x":6.7,"y":13.4},{"m":"c","x":10.4,"y":13.5},{"m":"c","x":15.2,"y":14.0},{"m":"c","x":15.0,"y":13.0},{"m":"c","x":15.5,"y":12.3},{"m":"c","x":12.9,"y":12.1},{"m":"c","x":11.3,"y":11.5},{"m":"c","x":9.6,"y":11.2},{"m":"c","x":15.8,"y":9.8},{"m":"c","x":14.2,"y":9.8},{"m":"c","x":4.4,"y":11.2},{"m":"c","x":1.0,"y":10.4},{"m":"c","x":13.6,"y":8.2},{"m":"c","x":14.8,"y":7.9},{"m":"c","x":12.1,"y":8.6},{"m":"c","x":16.5,"y":6.8},{"m":"c","x":19.4,"y":7.6},{"m":"c","x":18.6,"y":6.5},{"m":"c","x":15.9,"y":4.7},{"m":"c","x":17.1,"y":4.3},{"m":"c","x":18.2,"y":2.0},{"m":"c","x":16.3,"y":2.0},{"m":"c","x":14.8,"y":3.7},{"m":"c","x":12.7,"y":0.9},{"m":"c","x":11.0,"y":4.7},{"m":"c","x":11.9,"y":3.1},{"m":"c","x":9.8,"y":6.5},{"m":"c","x":12.9,"y":6.5},{"m":"c","x":7.8,"y":12.0},{"m":"c","x":11.8,"y":10.0},{"m":"c","x":13.8,"y":5.2},{"m":"c","x":14.5,"y":1.2},
{"m":"c","x":37.9,"y":23.3},{"m":"c","x":45.1,"y":21.0},{"m":"c","x":42.1,"y":20.9},{"m":"c","x":40.4,"y":19.4},{"m":"c","x":40.0,"y":16.7},{"m":"c","x":38.3,"y":16.1},{"m":"c","x":35.0,"y":21.2},{"m":"c","x":34.6,"y":18.6},{"m":"c","x":26.7,"y":20.7},{"m":"c","x":27.8,"y":21.1},{"m":"c","x":29.5,"y":17.2},{"m":"c","x":23.6,"y":17.3},{"m":"c","x":21.2,"y":17.9},{"m":"c","x":21.1,"y":17.2},{"m":"c","x":20.8,"y":15.8},{"m":"c","x":12.6,"y":17.3},{"m":"c","x":13.4,"y":16.6},{"m":"c","x":27.7,"y":13.4},{"m":"c","x":29.7,"y":13.4},{"m":"c","x":20.8,"y":12.4},{"m":"c","x":21.1,"y":11.8},{"m":"c","x":22.3,"y":12.4},{"m":"c","x":18.8,"y":11.3},{"m":"c","x":33.9,"y":10.0},{"m":"c","x":35.0,"y":9.6},{"m":"c","x":24.7,"y":7.9},{"m":"c","x":28.0,"y":7.3},{"m":"c","x":21.8,"y":7.6},{"m":"c","x":19.3,"y":7.5},{"m":"c","x":18.7,"y":6.6},{"m":"c","x":36.1,"y":6.9},{"m":"c","x":36.9,"y":6.8},{"m":"c","x":39.0,"y":5.9},{"m":"c","x":46.6,"y":4.6},{"m":"c","x":31.5,"y":4.3},{"m":"c","x":26.2,"y":4.0},{"m":"c","x":22.7,"y":3.9},{"m":"c","x":23.1,"y":3.9},{"m":"c","x":21.3,"y":5.7},{"m":"c","x":20.0,"y":5.8},{"m":"c","x":20.7,"y":4.4},{"m":"c","x":29.7,"y":2.9},{"m":"c","x":28.7,"y":1.5},{"m":"c","x":22.0,"y":1.7},{"m":"c","x":37.2,"y":1.8},{"m":"c","x":38.3,"y":0.2},{"m":"c","x":40.8,"y":0.7},{"m":"c","x":41.8,"y":2.2},{"m":"c","x":18.3,"y":1.8},{"m":"c","x":16.6,"y":1.5},{"m":"c","x":19.2,"y":3.7},{"m":"c","x":18.1,"y":3.7},{"m":"c","x":17.1,"y":3.2},{"m":"c","x":16.6,"y":7.9},{"m":"c","x":12.6,"y":0.7},

{"m":"d","x":0.2,"y":0.2},{"m":"d","x":1.1,"y":0.2},{"m":"d","x":2.0,"y":0.2},{"m":"d","x":2.9,"y":0.2},{"m":"d","x":3.8,"y":0.2},{"m":"d","x":4.7,"y":0.2},{"m":"d","x":5.6,"y":0.2},{"m":"d","x":6.5,"y":0.2},{"m":"d","x":7.4,"y":0.2},{"m":"d","x":8.3,"y":0.2},{"m":"d","x":9.2,"y":0.2},{"m":"d","x":10.1,"y":0.2},{"m":"d","x":11.0,"y":0.2},{"m":"d","x":11.9,"y":0.2},
{"m":"d","x":0.4,"y":0.75},{"m":"d","x":1.3,"y":0.75},{"m":"d","x":2.2,"y":0.75},{"m":"d","x":3.1,"y":0.75},{"m":"d","x":4.0,"y":0.75},{"m":"d","x":4.9,"y":0.75},{"m":"d","x":5.8,"y":0.75},{"m":"d","x":6.7,"y":0.75},{"m":"d","x":7.6,"y":0.75},{"m":"d","x":8.5,"y":0.75},{"m":"d","x":9.4,"y":0.75},{"m":"d","x":10.3,"y":0.75},{"m":"d","x":11.2,"y":0.75},
{"m":"d","x":0.6,"y":1.3},{"m":"d","x":1.5,"y":1.3},{"m":"d","x":2.4,"y":1.3},{"m":"d","x":3.3,"y":1.3},{"m":"d","x":4.2,"y":1.3},{"m":"d","x":5.1,"y":1.3},{"m":"d","x":6.0,"y":1.3},{"m":"d","x":6.9,"y":1.3},{"m":"d","x":7.8,"y":1.3},{"m":"d","x":8.7,"y":1.3},{"m":"d","x":9.6,"y":1.3},{"m":"d","x":10.5,"y":1.3},{"m":"d","x":11.4,"y":1.3},
{"m":"d","x":0.8,"y":1.85},{"m":"d","x":1.7,"y":1.85},{"m":"d","x":2.6,"y":1.85},{"m":"d","x":3.5,"y":1.85},{"m":"d","x":4.4,"y":1.85},{"m":"d","x":5.3,"y":1.85},{"m":"d","x":6.2,"y":1.85},{"m":"d","x":7.1,"y":1.85},{"m":"d","x":8.0,"y":1.85},{"m":"d","x":8.9,"y":1.85},{"m":"d","x":9.8,"y":1.85},{"m":"d","x":10.7,"y":1.85},{"m":"d","x":11.6,"y":1.85},
{"m":"d","x":0.2,"y":2.4},{"m":"d","x":1.1,"y":2.4},{"m":"d","x":2.0,"y":2.4},{"m":"d","x":2.9,"y":2.4},{"m":"d","x":3.8,"y":2.4},{"m":"d","x":4.7,"y":2.4},{"m":"d","x":5.6,"y":2.4},{"m":"d","x":6.5,"y":2.4},{"m":"d","x":7.4,"y":2.4},{"m":"d","x":8.3,"y":2.4},{"m":"d","x":9.2,"y":2.4},{"m":"d","x":10.1,"y":2.4},{"m":"d","x":11.0,"y":2.4},
{"m":"d","x":0.4,"y":2.95},{"m":"d","x":1.3,"y":2.95},{"m":"d","x":2.2,"y":2.95},{"m":"d","x":3.1,"y":2.95},{"m":"d","x":4.0,"y":2.95},{"m":"d","x":4.9,"y":2.95},{"m":"d","x":5.8,"y":2.95},{"m":"d","x":6.7,"y":2.95},{"m":"d","x":7.6,"y":2.95},{"m":"d","x":8.5,"y":2.95},{"m":"d","x":9.4,"y":2.95},{"m":"d","x":10.3,"y":2.95},
{"m":"d","x":0.6,"y":3.5},{"m":"d","x":1.5,"y":3.5},{"m":"d","x":2.4,"y":3.5},{"m":"d","x":3.3,"y":3.5},{"m":"d","x":4.2,"y":3.5},{"m":"d","x":5.1,"y":3.5},{"m":"d","x":6.0,"y":3.5},{"m":"d","x":6.9,"y":3.5},{"m":"d","x":7.8,"y":3.5},{"m":"d","x":8.7,"y":3.5},{"m":"d","x":9.6,"y":3.5},{"m":"d","x":10.5,"y":3.5},
{"m":"d","x":0.8,"y":4.05},{"m":"d","x":1.7,"y":4.05},{"m":"d","x":2.6,"y":4.05},{"m":"d","x":3.5,"y":4.05},{"m":"d","x":4.4,"y":4.05},{"m":"d","x":5.3,"y":4.05},{"m":"d","x":6.2,"y":4.05},{"m":"d","x":7.1,"y":4.05},{"m":"d","x":8.0,"y":4.05},{"m":"d","x":8.9,"y":4.05},{"m":"d","x":9.8,"y":4.05},{"m":"d","x":10.7,"y":4.05},
{"m":"d","x":0.2,"y":4.6},{"m":"d","x":1.1,"y":4.6},{"m":"d","x":2.0,"y":4.6},{"m":"d","x":2.9,"y":4.6},{"m":"d","x":3.8,"y":4.6},{"m":"d","x":4.7,"y":4.6},{"m":"d","x":5.6,"y":4.6},{"m":"d","x":6.5,"y":4.6},{"m":"d","x":7.4,"y":4.6},{"m":"d","x":8.3,"y":4.6},{"m":"d","x":9.2,"y":4.6},{"m":"d","x":10.1,"y":4.6},
{"m":"d","x":0.4,"y":5.15},{"m":"d","x":1.3,"y":5.15},{"m":"d","x":2.2,"y":5.15},{"m":"d","x":3.1,"y":5.15},{"m":"d","x":4.0,"y":5.15},{"m":"d","x":4.9,"y":5.15},{"m":"d","x":5.8,"y":5.15},{"m":"d","x":6.7,"y":5.15},{"m":"d","x":7.6,"y":5.15},{"m":"d","x":8.5,"y":5.15},{"m":"d","x":9.4,"y":5.15},
{"m":"d","x":0.6,"y":5.7},{"m":"d","x":1.5,"y":5.7},{"m":"d","x":2.4,"y":5.7},{"m":"d","x":3.3,"y":5.7},{"m":"d","x":4.2,"y":5.7},{"m":"d","x":5.1,"y":5.7},{"m":"d","x":6.0,"y":5.7},{"m":"d","x":6.9,"y":5.7},{"m":"d","x":7.8,"y":5.7},{"m":"d","x":8.7,"y":5.7},{"m":"d","x":9.6,"y":5.7},
{"m":"d","x":0.8,"y":6.25},{"m":"d","x":1.7,"y":6.25},{"m":"d","x":2.6,"y":6.25},{"m":"d","x":3.5,"y":6.25},{"m":"d","x":4.4,"y":6.25},{"m":"d","x":5.3,"y":6.25},{"m":"d","x":6.2,"y":6.25},{"m":"d","x":7.1,"y":6.25},{"m":"d","x":8.0,"y":6.25},{"m":"d","x":8.9,"y":6.25},{"m":"d","x":9.8,"y":6.25},
{"m":"d","x":1.1,"y":6.8},{"m":"d","x":2.0,"y":6.8},{"m":"d","x":2.9,"y":6.8},{"m":"d","x":3.8,"y":6.8},{"m":"d","x":4.7,"y":6.8},{"m":"d","x":5.6,"y":6.8},{"m":"d","x":6.5,"y":6.8},{"m":"d","x":7.4,"y":6.8},{"m":"d","x":8.3,"y":6.8},
{"m":"d","x":1.3,"y":7.35},{"m":"d","x":2.2,"y":7.35},{"m":"d","x":3.1,"y":7.35},{"m":"d","x":4.0,"y":7.35},{"m":"d","x":4.9,"y":7.35},{"m":"d","x":5.8,"y":7.35},{"m":"d","x":6.7,"y":7.35},{"m":"d","x":7.6,"y":7.35},{"m":"d","x":8.5,"y":7.35},
{"m":"d","x":1.5,"y":7.9},{"m":"d","x":2.4,"y":7.9},{"m":"d","x":3.3,"y":7.9},{"m":"d","x":4.2,"y":7.9},{"m":"d","x":5.1,"y":7.9},{"m":"d","x":6.0,"y":7.9},{"m":"d","x":6.9,"y":7.9},{"m":"d","x":7.8,"y":7.9},
{"m":"d","x":1.7,"y":8.45},{"m":"d","x":2.6,"y":8.45},{"m":"d","x":3.5,"y":8.45},{"m":"d","x":4.4,"y":8.45},{"m":"d","x":5.3,"y":8.45},{"m":"d","x":6.2,"y":8.45},{"m":"d","x":7.1,"y":8.45},{"m":"d","x":8.0,"y":8.45},
{"m":"d","x":2.2,"y":8.9},{"m":"d","x":3.3,"y":8.9},{"m":"d","x":4.4,"y":8.9},{"m":"d","x":5.5,"y":8.9},{"m":"d","x":6.5,"y":8.9},
{"m":"d","x":3.5,"y":9.6},{"m":"d","x":5.0,"y":9.6},{"m":"d","x":7.3,"y":9.6},
{"m":"d","x":0.2,"y":6.2},{"m":"d","x":9.6,"y":6.6},{"m":"d","x":10.5,"y":6.0},{"m":"d","x":11.3,"y":4.2},{"m":"d","x":12.3,"y":3.0},{"m":"d","x":11.0,"y":1.0},{"m":"d","x":12.8,"y":1.0},{"m":"d","x":9.2,"y":8.3},{"m":"d","x":10.3,"y":8.0},{"m":"d","x":13.5,"y":6.0},{"m":"d","x":7.8,"y":10.2},{"m":"d","x":2.0,"y":10.3},
{"m":"d","x":14.2,"y":11.8},{"m":"d","x":14.0,"y":10.8},{"m":"d","x":13.3,"y":11.0},{"m":"d","x":3.0,"y":10.9},{"m":"d","x":4.6,"y":10.4},{"m":"d","x":5.8,"y":10.9},{"m":"d","x":7.0,"y":11.0},{"m":"d","x":8.8,"y":9.4},{"m":"d","x":10.8,"y":9.1},{"m":"d","x":11.8,"y":9.3},{"m":"d","x":1.8,"y":9.6},{"m":"d","x":16.3,"y":6.9},{"m":"d","x":18.8,"y":6.5},{"m":"d","x":17.8,"y":5.0},{"m":"d","x":16.0,"y":3.7},{"m":"d","x":13.9,"y":1.5},{"m":"d","x":16.2,"y":0.7},{"m":"d","x":12.5,"y":6.5},{"m":"d","x":12.5,"y":2.0},{"m":"d","x":10.2,"y":2.0},{"m":"d","x":10.9,"y":5.1},{"m":"d","x":17.1,"y":2.0},{"m":"d","x":9.5,"y":7.5},{"m":"d","x":11.0,"y":7.0},{"m":"d","x":12.0,"y":5.5},{"m":"d","x":13.0,"y":4.0},{"m":"d","x":8.0,"y":9.0},{"m":"d","x":2.5,"y":9.2},{"m":"d","x":0.4,"y":7.3},{"m":"d","x":6.2,"y":9.5},{"m":"d","x":4.0,"y":9.6},
{"m":"d","x":5.1,"y":22.6},{"m":"d","x":4.5,"y":19.7},{"m":"d","x":11.2,"y":18.2},{"m":"d","x":12.5,"y":17.6},{"m":"d","x":26.2,"y":17.1},{"m":"d","x":11.6,"y":14.4},{"m":"d","x":13.2,"y":14.4},{"m":"d","x":14.6,"y":14.0},{"m":"d","x":15.9,"y":14.1},{"m":"d","x":9.8,"y":12.2},{"m":"d","x":14.1,"y":11.8},{"m":"d","x":13.2,"y":10.9},{"m":"d","x":14.9,"y":10.2},{"m":"d","x":18.9,"y":10.2},{"m":"d","x":21.1,"y":11.6},{"m":"d","x":23.6,"y":12.2},{"m":"d","x":25.3,"y":11.8},{"m":"d","x":24.3,"y":9.3},{"m":"d","x":25.0,"y":9.3},{"m":"d","x":25.9,"y":8.3},{"m":"d","x":22.3,"y":7.9},{"m":"d","x":23.9,"y":7.7},{"m":"d","x":26.9,"y":7.1},{"m":"d","x":32.8,"y":7.9},{"m":"d","x":50.1,"y":8.6},{"m":"d","x":39.3,"y":5.8},{"m":"d","x":46.6,"y":6.3},{"m":"d","x":47.1,"y":5.4},{"m":"d","x":50.1,"y":6.2},{"m":"d","x":46.2,"y":2.9},{"m":"d","x":28.4,"y":5.4},{"m":"d","x":29.3,"y":4.7},{"m":"d","x":30.6,"y":3.2},{"m":"d","x":26.2,"y":2.6},{"m":"d","x":23.1,"y":2.3},{"m":"d","x":21.1,"y":5.2},{"m":"d","x":22.7,"y":4.8},{"m":"d","x":19.2,"y":4.8},{"m":"d","x":18.9,"y":6.6},{"m":"d","x":17.9,"y":7.3},{"m":"d","x":16.7,"y":7.9},{"m":"d","x":16.4,"y":7.1},{"m":"d","x":14.6,"y":7.1},{"m":"d","x":15.9,"y":5.4},{"m":"d","x":17.0,"y":3.2},{"m":"d","x":17.6,"y":2.1},{"m":"d","x":18.1,"y":2.3},{"m":"d","x":16.3,"y":0.8},{"m":"d","x":14.0,"y":1.3},{"m":"d","x":13.8,"y":3.4},{"m":"d","x":14.6,"y":5.1},{"m":"d","x":15.1,"y":4.4},{"m":"d","x":12.4,"y":4.6},{"m":"d","x":10.8,"y":3.6},{"m":"d","x":11.9,"y":2.1},

{"m":"a","k":"f","x":0,"f":0.97,"lo":0.52,"hi":1.42},{"m":"a","k":"f","x":5,"f":2.96,"lo":2.66,"hi":3.26},{"m":"a","k":"f","x":10,"f":4.94,"lo":4.49,"hi":5.39},{"m":"a","k":"f","x":15,"f":6.93,"lo":6.18,"hi":7.68},{"m":"a","k":"f","x":20,"f":8.91,"lo":7.86,"hi":9.96},{"m":"a","k":"f","x":25,"f":10.9,"lo":9.5,"hi":12.3},{"m":"a","k":"f","x":30,"f":12.88,"lo":11.18,"hi":14.58},{"m":"a","k":"f","x":35,"f":14.87,"lo":12.82,"hi":16.92},{"m":"a","k":"f","x":40,"f":16.85,"lo":14.5,"hi":19.2},{"m":"a","k":"f","x":46.7,"f":19.51,"lo":16.76,"hi":22.26},
{"m":"b","k":"f","x":0,"f":1.42,"lo":0.92,"hi":1.92},{"m":"b","k":"f","x":5,"f":3.41,"lo":3.06,"hi":3.76},{"m":"b","k":"f","x":10,"f":5.4,"lo":4.9,"hi":5.9},{"m":"b","k":"f","x":15,"f":7.39,"lo":6.54,"hi":8.24},{"m":"b","k":"f","x":20,"f":9.38,"lo":8.23,"hi":10.53},{"m":"b","k":"f","x":25,"f":11.37,"lo":9.87,"hi":12.87},{"m":"b","k":"f","x":30,"f":13.36,"lo":11.51,"hi":15.21},{"m":"b","k":"f","x":35,"f":15.35,"lo":13.15,"hi":17.55},{"m":"b","k":"f","x":40,"f":17.34,"lo":14.74,"hi":19.94},{"m":"b","k":"f","x":46.7,"f":20.01,"lo":16.96,"hi":23.06},
{"m":"c","k":"f","x":0,"f":2.0,"lo":1.6,"hi":2.4},{"m":"c","k":"f","x":5,"f":3.79,"lo":3.49,"hi":4.09},{"m":"c","k":"f","x":10,"f":5.58,"lo":5.18,"hi":5.98},{"m":"c","k":"f","x":15,"f":7.37,"lo":6.72,"hi":8.02},{"m":"c","k":"f","x":20,"f":9.16,"lo":8.26,"hi":10.06},{"m":"c","k":"f","x":25,"f":10.95,"lo":9.8,"hi":12.1},{"m":"c","k":"f","x":30,"f":12.74,"lo":11.34,"hi":14.14},{"m":"c","k":"f","x":35,"f":14.53,"lo":12.83,"hi":16.23},{"m":"c","k":"f","x":40,"f":16.32,"lo":14.37,"hi":18.27},{"m":"c","k":"f","x":46.7,"f":18.72,"lo":16.42,"hi":21.02},
{"m":"d","k":"f","x":0,"f":3.05,"lo":2.7,"hi":3.4},{"m":"d","k":"f","x":5,"f":3.91,"lo":3.66,"hi":4.16},{"m":"d","k":"f","x":10,"f":4.76,"lo":4.36,"hi":5.16},{"m":"d","k":"f","x":15,"f":5.62,"lo":4.87,"hi":6.37},{"m":"d","k":"f","x":20,"f":6.47,"lo":5.37,"hi":7.57},{"m":"d","k":"f","x":25,"f":7.33,"lo":5.83,"hi":8.83},{"m":"d","k":"f","x":30,"f":8.18,"lo":6.28,"hi":10.08},{"m":"d","k":"f","x":35,"f":9.04,"lo":6.74,"hi":11.34},{"m":"d","k":"f","x":40,"f":9.89,"lo":7.24,"hi":12.54},{"m":"d","k":"f","x":45,"f":10.75,"lo":7.75,"hi":13.75},{"m":"d","k":"f","x":51,"f":11.77,"lo":8.37,"hi":15.17},

{"m":"a","k":"t","x":10,"y":45,"g":"R²","v":"= 0.373"},{"m":"a","k":"t","x":10,"y":40,"g":"KGE","v":"= 0.373"},{"m":"a","k":"t","x":10,"y":35,"g":"R","v":"= 0.617"},{"m":"a","k":"t","x":30,"y":45,"g":"RMSE","v":"= 2.94"},{"m":"a","k":"t","x":30,"y":40,"g":"MAE","v":"= 1.316"},
{"m":"b","k":"t","x":10,"y":45,"g":"R²","v":"= 0.348"},{"m":"b","k":"t","x":10,"y":40,"g":"KGE","v":"= 0.371"},{"m":"b","k":"t","x":10,"y":35,"g":"R","v":"= 0.597"},{"m":"b","k":"t","x":30,"y":45,"g":"RMSE","v":"= 2.997"},{"m":"b","k":"t","x":30,"y":40,"g":"MAE","v":"= 1.449"},
{"m":"c","k":"t","x":10,"y":45,"g":"R²","v":"= 0.323"},{"m":"c","k":"t","x":10,"y":40,"g":"KGE","v":"= 0.299"},{"m":"c","k":"t","x":10,"y":35,"g":"R","v":"= 0.573"},{"m":"c","k":"t","x":30,"y":45,"g":"RMSE","v":"= 3.241"},{"m":"c","k":"t","x":30,"y":40,"g":"MAE","v":"= 1.525"},
{"m":"d","k":"t","x":10,"y":45,"g":"R²","v":"= 0.203"},{"m":"d","k":"t","x":10,"y":40,"g":"KGE","v":"= -0.386"},{"m":"d","k":"t","x":10,"y":35,"g":"R","v":"= 0.455"},{"m":"d","k":"t","x":30,"y":45,"g":"RMSE","v":"= 3.917"},{"m":"d","k":"t","x":30,"y":40,"g":"MAE","v":"= 1.367"}
]},
"facet":{"field":"m","type":"nominal","sort":["a","b","c","d"],
  "header":{"title":null,"labelExpr":"datum.value=='a'?'transfer model':datum.value=='b'?'CNN model':datum.value=='c'?'RF model':'MTCNN model'","labelFont":"Liberation Serif","labelFontSize":23,"labelColor":"#000","labelPadding":6}},
"columns":2,
"spacing":{"row":128,"column":103},
"bounds":"flush",
"resolve":{"axis":{"x":"independent","y":"independent"}},
"spec":{
  "width":435,"height":300,
  "encoding":{"x":{"field":"x","type":"quantitative","scale":{"domain":[0,50],"nice":false},"axis":{"values":[0,20,40],"title":"SOC observed (% by weight)","labelFlush":false,"labelFont":"Liberation Serif","labelFontSize":30,"titleFont":"Liberation Serif","titleFontSize":23}}},
  "layer":[
    {"transform":[{"filter":"!datum.k"}],
     "mark":{"type":"circle","size":80,"fillOpacity":0.8,"strokeOpacity":0.8,"strokeWidth":1,"clip":true},
     "encoding":{"y":{"field":"y","type":"quantitative","scale":{"domain":[0,50],"nice":false},"axis":{"values":[0,20,40],"title":"SOC predicted (% by weight)","labelFont":"Liberation Serif","labelFontSize":30,"titleFont":"Liberation Serif","titleFontSize":23}},
       "color":{"field":"m","type":"nominal","scale":{"domain":["a","b","c","d"],"range":["#ff0000","#000000","#0000ff","#008000"]},"legend":null},
       "stroke":{"field":"m","type":"nominal","scale":{"domain":["a","b","c","d"],"range":["#ff0000","#000000","#0000ff","#008000"]},"legend":null}}},
    {"transform":[{"filter":"datum.k=='f'"}],
     "mark":{"type":"area","opacity":0.15,"clip":true},
     "encoding":{"y":{"field":"lo","type":"quantitative","scale":{"domain":[0,50],"nice":false},"axis":{"values":[0,20,40],"title":"SOC predicted (% by weight)","labelFont":"Liberation Serif","labelFontSize":30,"titleFont":"Liberation Serif","titleFontSize":23}},"y2":{"field":"hi"},
       "color":{"field":"m","type":"nominal","scale":{"domain":["a","b","c","d"],"range":["#ff0000","#000000","#0000ff","#008000"]},"legend":null}}},
    {"transform":[{"filter":"datum.k=='f'"}],
     "mark":{"type":"line","strokeWidth":3,"clip":true},
     "encoding":{"y":{"field":"f","type":"quantitative","scale":{"domain":[0,50],"nice":false},"axis":{"values":[0,20,40],"title":"SOC predicted (% by weight)","labelFont":"Liberation Serif","labelFontSize":30,"titleFont":"Liberation Serif","titleFontSize":23}},
       "color":{"field":"m","type":"nominal","scale":{"domain":["a","b","c","d"],"range":["#ff0000","#000000","#0000ff","#008000"]},"legend":null}}},
    {"transform":[{"filter":"datum.k=='t'"}],
     "mark":{"type":"text","font":"Liberation Serif","fontSize":20,"fontStyle":"italic","align":"left","baseline":"alphabetic","color":"#000"},
     "encoding":{"y":{"field":"y","type":"quantitative","scale":{"domain":[0,50],"nice":false},"axis":{"values":[0,20,40],"title":"SOC predicted (% by weight)","labelFont":"Liberation Serif","labelFontSize":30,"titleFont":"Liberation Serif","titleFontSize":23}},"text":{"field":"g"}}},
    {"transform":[{"filter":"datum.k=='t' && datum.g=='R²'"}],
     "mark":{"type":"text","font":"Liberation Serif","fontSize":20,"align":"left","baseline":"alphabetic","color":"#000","dx":24},
     "encoding":{"y":{"field":"y","type":"quantitative","scale":{"domain":[0,50],"nice":false},"axis":{"values":[0,20,40],"title":"SOC predicted (% by weight)","labelFont":"Liberation Serif","labelFontSize":30,"titleFont":"Liberation Serif","titleFontSize":23}},"text":{"field":"v"}}},
    {"transform":[{"filter":"datum.k=='t' && datum.g=='KGE'"}],
     "mark":{"type":"text","font":"Liberation Serif","fontSize":20,"align":"left","baseline":"alphabetic","color":"#000","dx":44},
     "encoding":{"y":{"field":"y","type":"quantitative","scale":{"domain":[0,50],"nice":false},"axis":{"values":[0,20,40],"title":"SOC predicted (% by weight)","labelFont":"Liberation Serif","labelFontSize":30,"titleFont":"Liberation Serif","titleFontSize":23}},"text":{"field":"v"}}},
    {"transform":[{"filter":"datum.k=='t' && datum.g=='R'"}],
     "mark":{"type":"text","font":"Liberation Serif","fontSize":20,"align":"left","baseline":"alphabetic","color":"#000","dx":16},
     "encoding":{"y":{"field":"y","type":"quantitative","scale":{"domain":[0,50],"nice":false},"axis":{"values":[0,20,40],"title":"SOC predicted (% by weight)","labelFont":"Liberation Serif","labelFontSize":30,"titleFont":"Liberation Serif","titleFontSize":23}},"text":{"field":"v"}}},
    {"transform":[{"filter":"datum.k=='t' && datum.g=='RMSE'"}],
     "mark":{"type":"text","font":"Liberation Serif","fontSize":20,"align":"left","baseline":"alphabetic","color":"#000","dx":56},
     "encoding":{"y":{"field":"y","type":"quantitative","scale":{"domain":[0,50],"nice":false},"axis":{"values":[0,20,40],"title":"SOC predicted (% by weight)","labelFont":"Liberation Serif","labelFontSize":30,"titleFont":"Liberation Serif","titleFontSize":23}},"text":{"field":"v"}}},
    {"transform":[{"filter":"datum.k=='t' && datum.g=='MAE'"}],
     "mark":{"type":"text","font":"Liberation Serif","fontSize":20,"align":"left","baseline":"alphabetic","color":"#000","dx":46},
     "encoding":{"y":{"field":"y","type":"quantitative","scale":{"domain":[0,50],"nice":false},"axis":{"values":[0,20,40],"title":"SOC predicted (% by weight)","labelFont":"Liberation Serif","labelFontSize":30,"titleFont":"Liberation Serif","titleFontSize":23}},"text":{"field":"v"}}}
  ]
},
"config":{
  "view":{"stroke":null},
  "font":"Liberation Serif",
  "axis":{"labelFont":"Liberation Serif","labelFontSize":30,"labelColor":"#000","titleFont":"Liberation Serif","titleFontSize":23,"titleFontWeight":"normal","titleColor":"#000","grid":false,"domainColor":"#444","tickColor":"#444","domainWidth":1.3,"tickWidth":1.3,"tickSize":6,"labelPadding":4},
  "axisX":{"titlePadding":2},
  "axisY":{"titlePadding":7}
}
}
